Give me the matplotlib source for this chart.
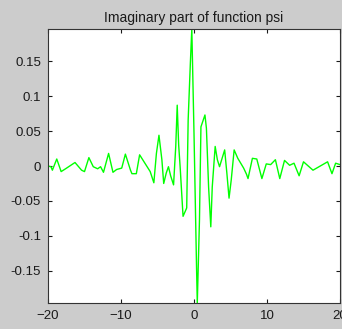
import matplotlib
matplotlib.use("Agg")
import matplotlib.pyplot as plt
import numpy as np

# points
x = [-20.0, -19.6, -19.4, -18.8, -18.2, -17.6, -16.3, -15.4, -15.0, -14.4,
     -13.8, -13.2, -12.8, -12.4, -11.7, -11.1, -10.6, -9.9, -9.4, -8.7,
     -8.5, -7.9, -7.45, -6.0, -5.5, -5.15, -4.8, -4.4, -4.15, -3.8,
     -3.5, -3.2, -2.8, -2.5, -2.3, -2.1, -1.9, -1.5, -1.0, -0.8,
     -0.5, -0.3, 0.0, 0.35, 0.45, 0.75, 0.95, 1.5, 1.7, 2.0,
     2.3, 2.5, 2.9, 3.2, 3.5, 4.2, 4.5, 4.8, 5.1, 5.5,
     6.0, 6.8, 7.2, 7.4, 8.0, 8.6, 9.3, 9.9, 10.5, 11.15,
     11.75, 12.4, 13.1, 13.7, 14.4, 15.0, 16.3, 18.3, 18.9, 19.4,
     20.0]
y = [0.000, -0.001, -0.006, 0.010, -0.008, -0.004, 0.005, -0.006, -0.008, 0.012,
     -0.001, -0.004, -0.001, -0.009, 0.018, -0.009, -0.005, -0.003, 0.017, -0.006,
     -0.011, -0.011, 0.016, -0.008, -0.024, 0.018, 0.044, 0.009, -0.025, -0.010,
     -0.001, -0.014, -0.027, 0.028, 0.087, 0.030, -0.001, -0.072, -0.060, 0.066,
     0.147, 0.196, 0.047, -0.146, -0.196, -0.077, 0.056, 0.073, 0.054, -0.030,
     -0.087, -0.030, 0.028, 0.009, -0.001, 0.023, -0.010, -0.046, -0.020, 0.023,
     0.011, -0.003, -0.012, -0.018, 0.011, 0.010, -0.018, 0.003, 0.002, 0.009,
     -0.018, 0.008, 0.001, 0.004, -0.014, 0.006, -0.006, 0.006, -0.011, 0.004,
     0.002]

xticks = [-20, -10, 0, 10, 20]
yticks = [-0.15, -0.1, -0.05, 0, 0.05, 0.1, 0.15]
yticklabels = ["-0.15", "-0.1", "-0.05", "0", "0.05", "0.1", "0.15"]

plt.rcParams['font.family'] = ['Liberation Sans', 'DejaVu Sans']

fig = plt.figure(figsize=(3.42, 3.29), dpi=100, facecolor='#cccccc')
ax = fig.add_axes([48/342, 1-303/329, 292/342, 274/329])
ax.plot(x, y, color='#00ff00', lw=1)
ax.set_xlim(-20, 20)
ax.set_ylim(-0.196, 0.196)
ax.set_xticks(xticks)
ax.set_yticks(yticks)
ax.set_yticklabels(yticklabels)
ax.tick_params(direction='in', length=3, width=0.8, top=True, right=True,
               labelsize=9.5, colors='#1a1a1a', pad=5)
for s in ax.spines.values():
    s.set_color('#333333')
    s.set_linewidth(0.8)
ax.set_title("Imaginary part of function psi", fontsize=10, color='#1a1a1a', pad=5)

fig.savefig("out.png", dpi=100, facecolor=fig.get_facecolor())
